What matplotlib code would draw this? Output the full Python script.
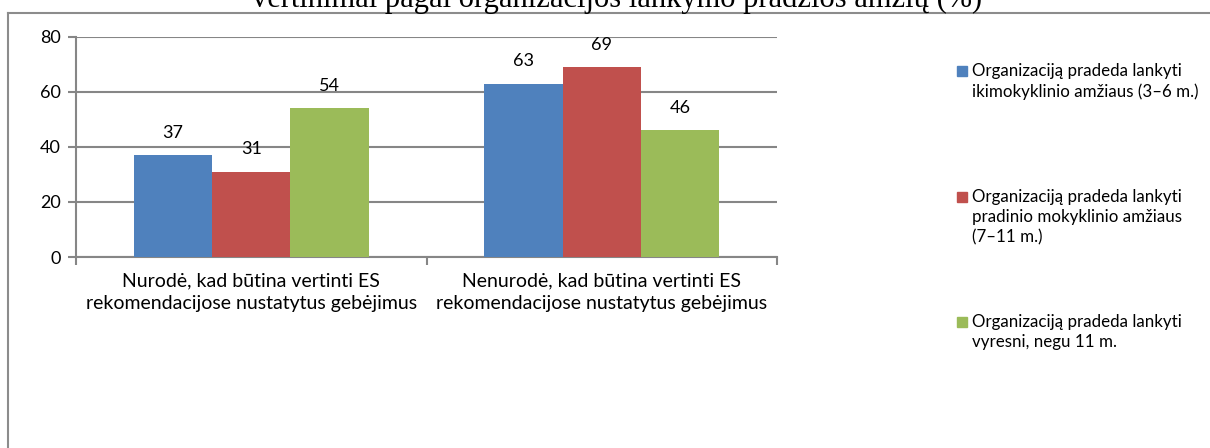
import matplotlib
matplotlib.use('Agg')
import matplotlib.pyplot as plt
from matplotlib.patches import Rectangle
from matplotlib.lines import Line2D
import numpy as np

# data
categories = ['Nurodė, kad būtina vertinti ES\nrekomendacijose nustatytus gebėjimus',
              'Nenurodė, kad būtina vertinti ES\nrekomendacijose nustatytus gebėjimus']
series_names = ['Organizaciją pradeda lankyti\nikimokyklinio amžiaus (3–6 m.)',
                'Organizaciją pradeda lankyti\npradinio mokyklinio amžiaus\n(7–11 m.)',
                'Organizaciją pradeda lankyti\nvyresni, negu 11 m.']
values = [[37, 63], [31, 69], [54, 46]]
colors = ['#4F81BD', '#C0504D', '#9BBB59']
yticks = [0, 20, 40, 60, 80]
title = 'vertinimai pagal organizacijos lankymo pradžios amžių (%)'

W, H = 1210, 448
plt.rcParams['font.family'] = ['Lato', 'DejaVu Sans']
fig = plt.figure(figsize=(W / 100, H / 100), dpi=100)


def fx(px):
    return px / W


def fy(py):
    return 1 - py / H


ax = fig.add_axes([fx(76), fy(257), fx(777) - fx(76), fy(36.7) - fy(257)])

x = np.arange(len(categories))
bw = 0.2233
for i, (vals, c) in enumerate(zip(values, colors)):
    pos = x + (i - 1) * bw
    bars = ax.bar(pos, vals, width=bw, color=c, zorder=3)
    for b, v in zip(bars, vals):
        ax.annotate(str(v), (b.get_x() + b.get_width() / 2, v), xytext=(0, 16),
                    textcoords='offset points', ha='center', va='center',
                    fontsize=13, color='black')

ax.set_xlim(-0.5, 1.5)
ax.set_ylim(0, 80)
ax.set_yticks(yticks)
ax.set_yticklabels([str(t) for t in yticks], fontsize=13)
ax.yaxis.grid(True, color='#868686', lw=1.5, zorder=0)
ax.set_axisbelow(True)

for s in ['top', 'right']:
    ax.spines[s].set_visible(False)
for s in ['left', 'bottom']:
    ax.spines[s].set_color('#868686')
    ax.spines[s].set_linewidth(1.5)

ax.set_xticks([-0.5, 0.5, 1.5])
ax.set_xticklabels([])
ax.set_xticks(x, minor=True)
ax.set_xticklabels(categories, minor=True, fontsize=14, linespacing=1.4)
ax.tick_params(axis='x', which='minor', length=0, pad=11)
ax.tick_params(axis='x', which='major', length=6, width=1.5, color='#868686')
ax.tick_params(axis='y', length=6, width=1.5, color='#868686', pad=5)

# legend, drawn by hand to keep Excel-like spacing
leg_rows = [71, 197, 322]
for name, c, y in zip(series_names, colors, leg_rows):
    fig.add_artist(Rectangle((fx(957), fy(y + 5)), fx(10), 10 / H, color=c,
                             transform=fig.transFigure))
    fig.text(fx(972), fy(y - 8), name, fontsize=12.2, va='top', ha='left',
             linespacing=1.3, transform=fig.transFigure)

# outer chart frame
fig.add_artist(Line2D([fx(8), fx(8)], [fy(13), 0], color='#8c8c8c', lw=1.5))
fig.add_artist(Line2D([fx(8), 1], [fy(13), fy(13)], color='#8c8c8c', lw=1.5))

# clipped title, only the bottom sliver shows
fig.text(fx(617), fy(7.5), title, family='Liberation Serif', fontsize=22,
         ha='center', va='baseline')

fig.savefig('out.png', dpi=100)
